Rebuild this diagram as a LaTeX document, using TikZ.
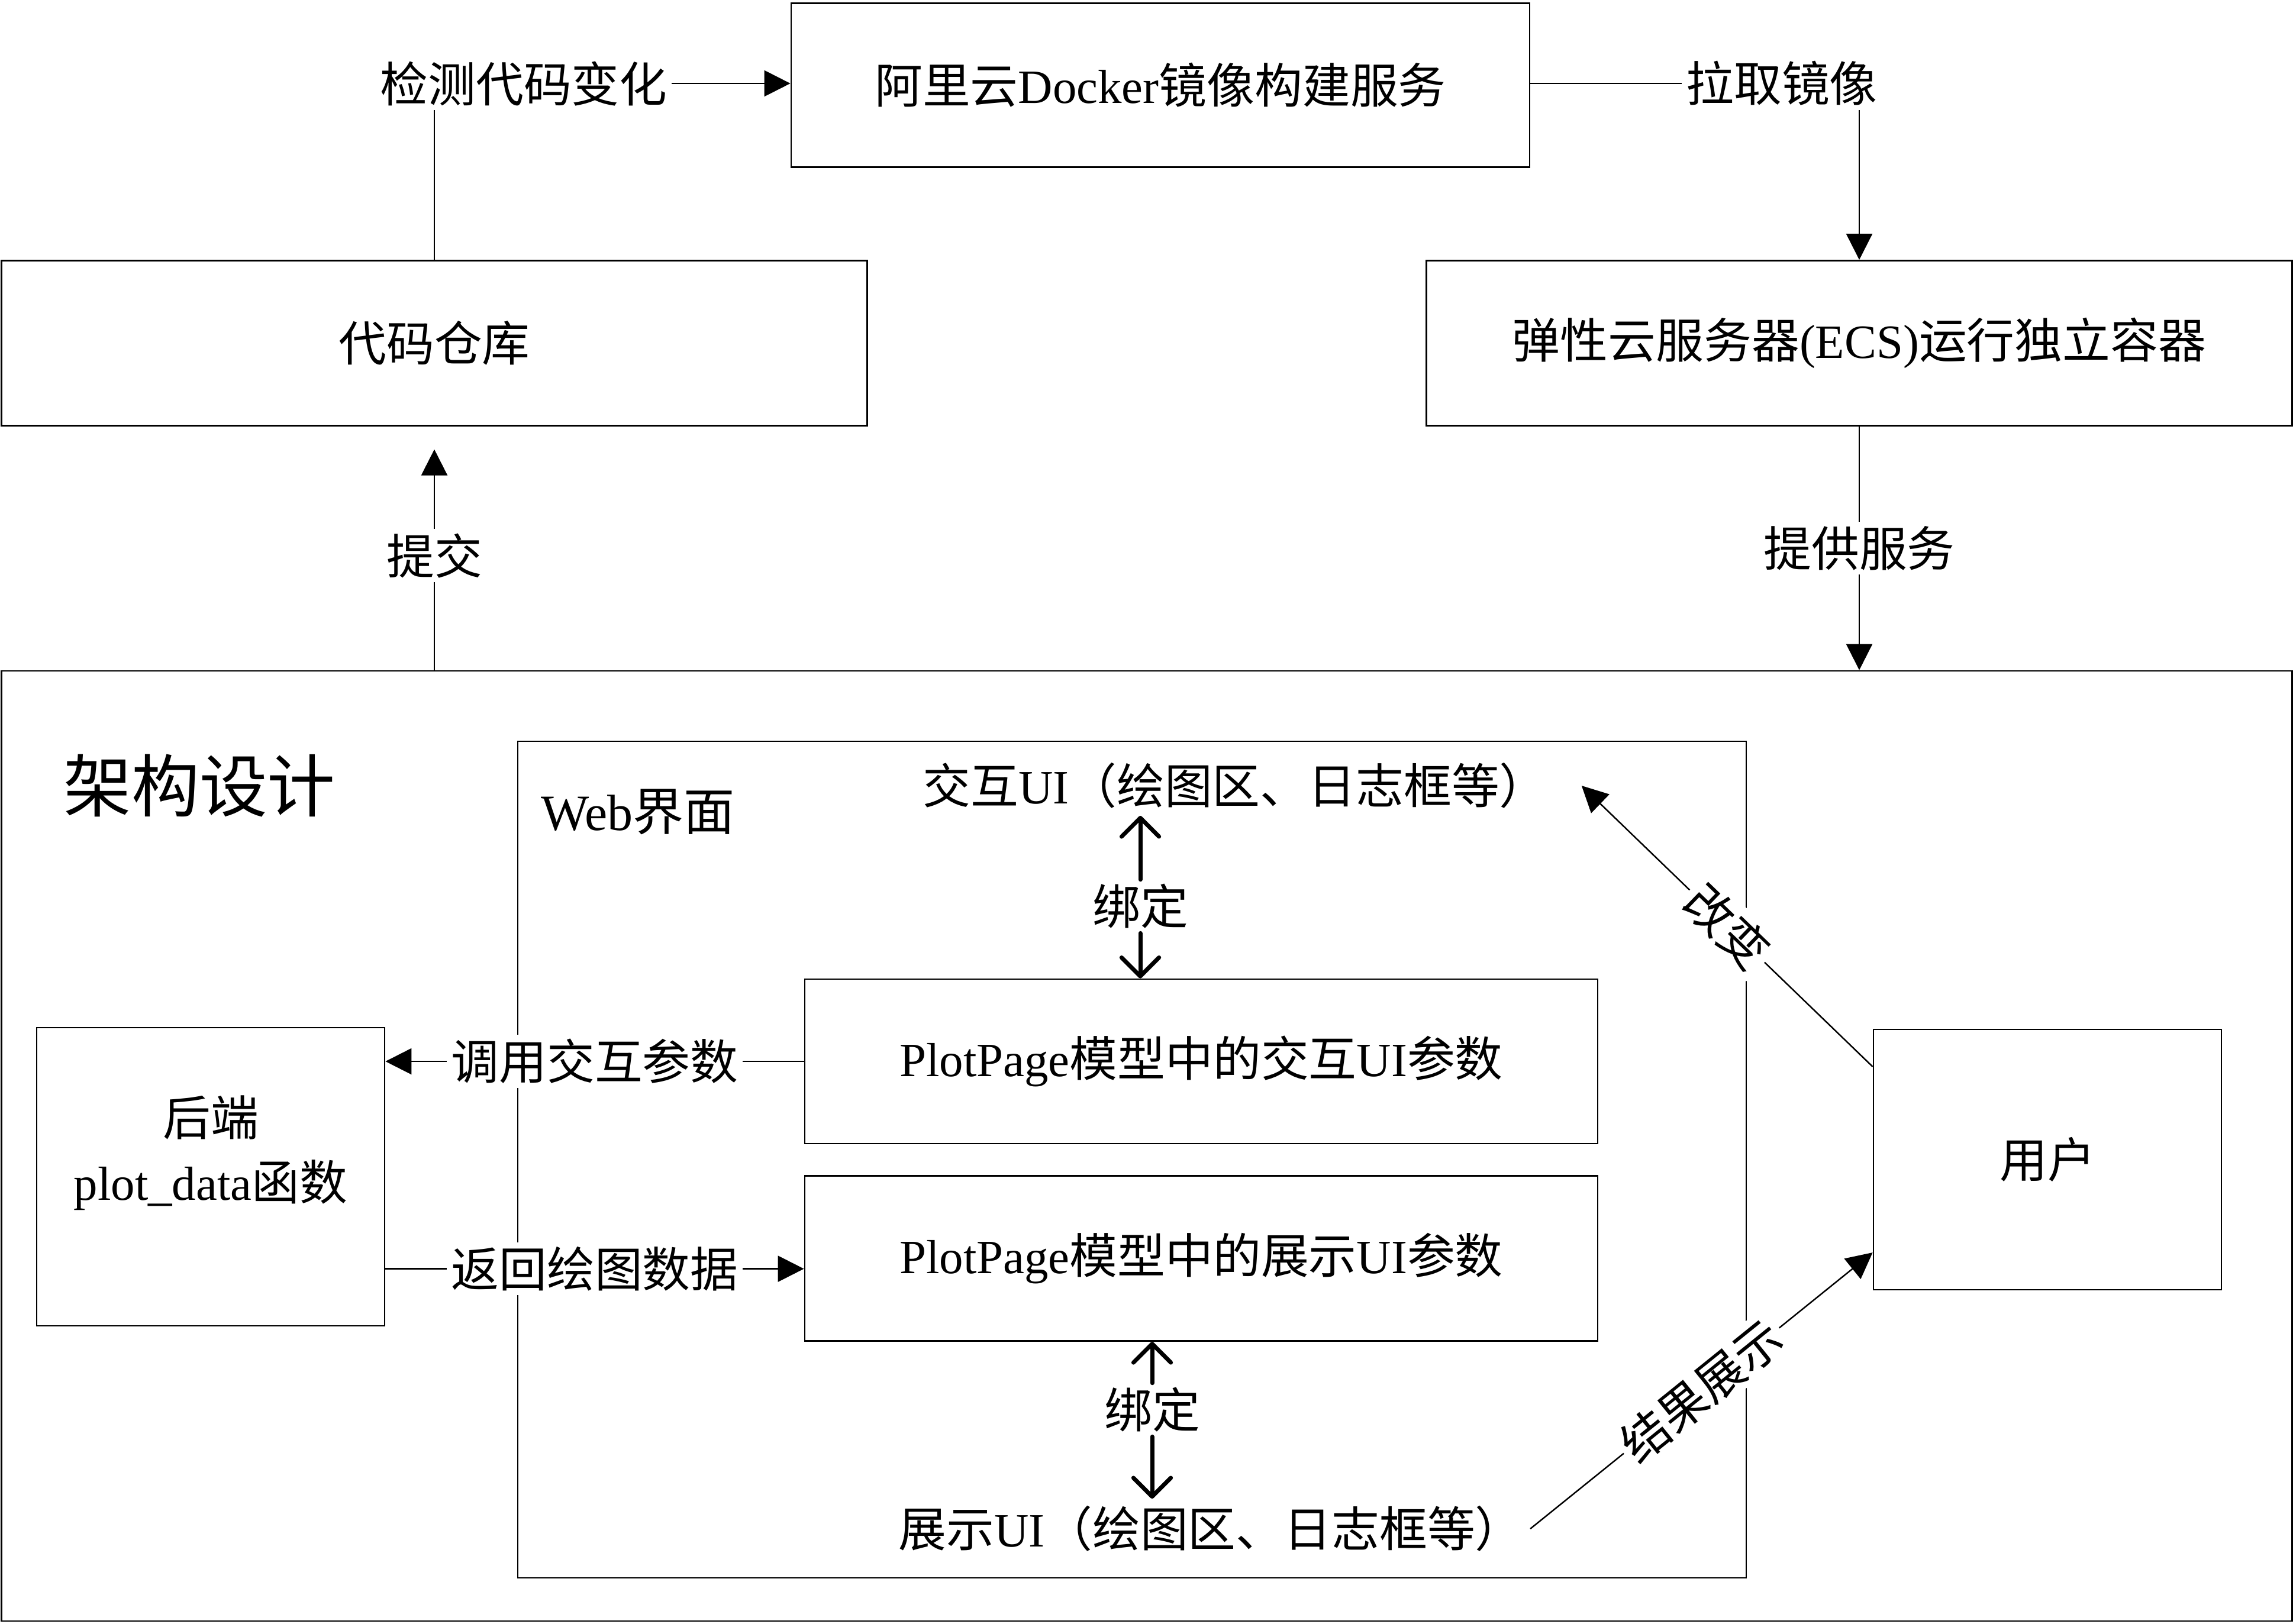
\documentclass[tikz,border=0pt]{standalone}
\usepackage{fontspec}
\setmainfont{Noto Sans CJK SC}
\newfontfamily\latinfont{Liberation Serif}
\newcommand{\en}[1]{{\latinfont #1}}
\usetikzlibrary{arrows.meta}

\begin{document}
\begin{tikzpicture}[
  font=\fontsize{23pt}{31pt}\selectfont,
  box/.style={draw, line width=0.8pt, inner sep=0pt, align=center},
  lbl/.style={fill=white, inner sep=2pt},
  conn/.style={draw, line width=0.7pt},
  arr/.style={conn, -{Triangle[length=12.5pt,width=12.5pt]}},
  bind/.style={draw, line width=2pt, line cap=round, -{Straight Barb[length=9pt,width=18pt,round]}}
]
\useasboundingbox (0,0) rectangle (38.75,-27.44);
\node[box, minimum width=38.71cm, minimum height=16.06cm] (arch) at (19.38,-19.37) {};
\node[box, minimum width=20.76cm, minimum height=14.14cm] (web) at (19.13,-19.60) {};
\node[box, minimum width=12.48cm, minimum height=2.77cm] (build) at (19.61,-1.44) {阿里云\en{Docker}镜像构建服务};
\node[box, minimum width=14.63cm, minimum height=2.79cm] (repo) at (7.34,-5.80) {代码仓库};
\node[box, minimum width=14.63cm, minimum height=2.79cm] (ecs) at (31.42,-5.80) {弹性云服务器\en{(ECS)}运行独立容器};
\node[box, minimum width=5.88cm, minimum height=5.04cm, text depth=28pt] (bk) at (3.56,-19.89) {后端\\\en{plot\_data}函数};
\node[box, minimum width=13.40cm, minimum height=2.78cm] (ppi) at (20.30,-17.94) {\en{PlotPage}模型中的交互\en{UI}参数};
\node[box, minimum width=13.40cm, minimum height=2.79cm] (ppd) at (20.30,-21.27) {\en{PlotPage}模型中的展示\en{UI}参数};
\node[box, minimum width=5.88cm, minimum height=4.40cm] (user) at (34.60,-19.60) {用户};
\node[font=\fontsize{32.7pt}{36pt}\selectfont] (title) at (3.37,-13.28) {架构设计};
\node[font=\fontsize{24.5pt}{30pt}\selectfont] (webt) at (10.78,-13.72) {\en{Web}界面};
\node (ixui) at (20.87,-13.28) {交互\en{UI}（绘图区、日志框等）};
\node (dsui) at (20.46,-25.84) {展示\en{UI}（绘图区、日志框等）};
\node[lbl] (chk) at (8.85,-1.41) {检测代码变化};
\node[lbl] (pull) at (30.11,-1.41) {拉取镜像};
\node[lbl] (bind1) at (19.27,-15.32) {绑定};
\node[lbl] (bind2) at (19.47,-23.83) {绑定};
\draw[conn] (repo.north) -- (repo.north |- chk.south);
\draw[arr] (chk.east) -- (chk.east -| build.west);
\draw[conn] (pull.west -| build.east) -- (pull.west);
\draw[arr] (ecs.north |- pull.south) -- (ecs.north);
\draw[arr, shorten >=11pt] (repo.south |- arch.north) -- node[lbl, pos=.47] (sub) {提交} (repo.south);
\draw[arr] (ecs.south) -- node[lbl] (serve) {提供服务} (ecs.south |- arch.north);
\draw[arr] (ppi.west) -- node[lbl] (call) {调用交互参数} (ppi.west -| bk.east);
\draw[arr] ([yshift=-5pt]bk.east |- ppd.west) -- node[lbl] (ret) {返回绘图数据} ([yshift=-5pt]ppd.west);
\draw[bind] (bind1) -- (bind1 |- ixui.south);
\draw[bind] (bind1) -- (bind1 |- ppi.north);
\draw[bind] (bind2) -- (bind2 |- ppd.south);
\draw[bind] (bind2) -- (bind2 |- dsui.north);
\draw[arr] (user.152) -- node[lbl, sloped] (chg) {改变} ([xshift=13pt]ixui.east);
\draw[arr] (dsui.east) -- node[lbl, sloped] (res) {结果展示} (user.208);
\end{tikzpicture}
\end{document}
